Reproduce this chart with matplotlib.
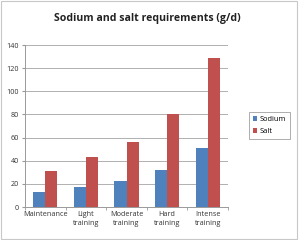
import numpy as np
import matplotlib
matplotlib.use("Agg")
import matplotlib.pyplot as plt
from matplotlib.patches import Rectangle

categories = ["Maintenance", "Light\ntraining", "Moderate\ntraining", "Hard\ntraining", "Intense\ntraining"]
sodium = [12.6, 17.4, 22.4, 32, 51.4]
salt = [31.5, 43.6, 55.8, 80, 128.6]

plt.rcParams["font.family"] = ["Open Sans", "DejaVu Sans"]

fig = plt.figure(figsize=(3, 2.4), dpi=100)
ax = fig.add_axes([25 / 300, 1 - 207 / 240, 203 / 300, 162 / 240])

x = np.arange(len(categories))
w = 0.3
ax.bar(x - w / 2, sodium, w, color="#4F81BD", label="Sodium", zorder=3)
ax.bar(x + w / 2, salt, w, color="#C0504D", label="Salt", zorder=3)

ax.set_xlim(-0.5, len(categories) - 0.5)
ax.set_ylim(0, 140)
ax.set_yticks(range(0, 141, 20))
ax.yaxis.grid(True, color="#b0b0b0", linewidth=0.7, zorder=0)
ax.set_xticks(x)
ax.set_xticklabels(categories, fontsize=5.2, color="#333333", linespacing=1.4)
ax.set_xticks(np.arange(-0.5, len(categories)), minor=True)
ax.tick_params(axis="x", which="major", length=0, pad=3)
ax.tick_params(axis="x", which="minor", length=2.5, color="#999999")
ax.tick_params(axis="y", labelsize=5.2, labelcolor="#333333", length=2.5, color="#999999", pad=2)
for s in ["top", "right"]:
    ax.spines[s].set_visible(False)
ax.spines["left"].set_color("#999999")
ax.spines["bottom"].set_color("#999999")
ax.spines["left"].set_linewidth(0.7)
ax.spines["bottom"].set_linewidth(0.7)

fig.text(0.49, 1 - 19 / 240, "Sodium and salt requirements (g/d)", ha="center", va="center",
         fontsize=7.6, fontweight="bold", color="#222222")

leg = fig.legend(loc="center", bbox_to_anchor=(269.5 / 300, 1 - 125.5 / 240), fontsize=5.4,
                 frameon=True, fancybox=False, handlelength=0.6, handleheight=0.6,
                 handletextpad=0.3, borderpad=0.5, labelspacing=0.6)
leg.get_frame().set_edgecolor("#888888")
leg.get_frame().set_linewidth(0.6)

fig.patches.append(Rectangle((0.002, 0.006), 0.988, 0.99, transform=fig.transFigure,
                             fill=False, edgecolor="#c8c8c8", linewidth=0.8))

fig.savefig("out.png", dpi=100)
